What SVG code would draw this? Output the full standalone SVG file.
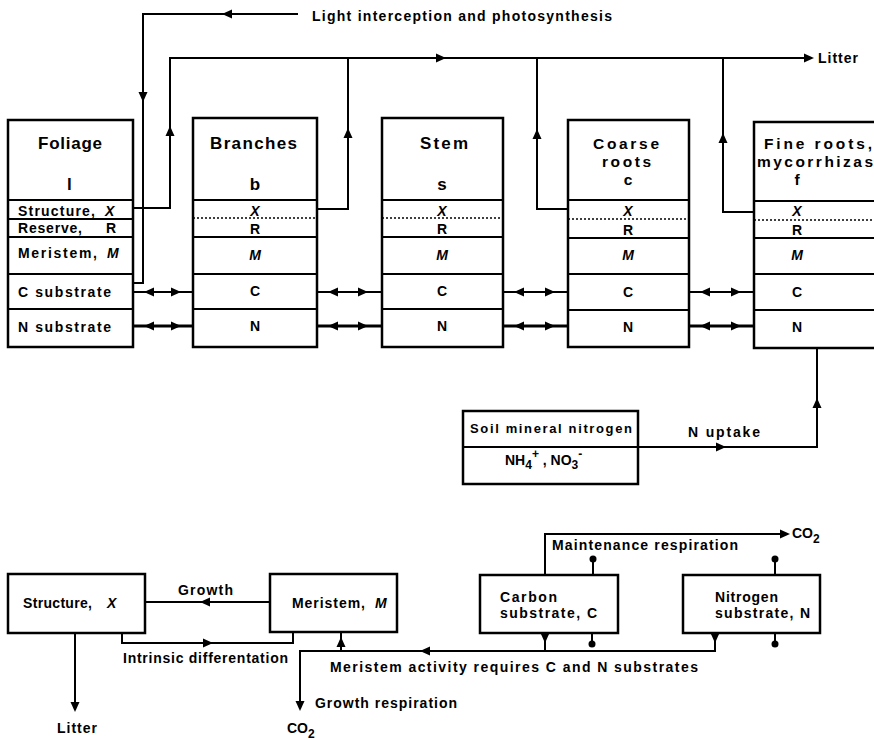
<svg xmlns="http://www.w3.org/2000/svg" xmlns:xlink="http://www.w3.org/1999/xlink" width="874" height="740" viewBox="0 0 874 740">
<style>
text{font-family:"Liberation Sans",Arial,sans-serif;font-weight:bold;fill:#000;font-size:14px}
.h{font-size:17px}
.h2{font-size:15.5px}
.s{font-size:12px}
.it{font-style:italic}
.box{fill:#fff;stroke:#000;stroke-width:2.5}
.row{stroke:#000;stroke-width:2;fill:none}
.dot{stroke:#000;stroke-width:1.6;stroke-dasharray:2 2;fill:none}
.ln{stroke:#000;stroke-width:2;fill:none}
.thk{stroke:#000;stroke-width:3;fill:none}
</style>
<defs>
<path id="tri" d="M0,0 L-10,-4.5 L-10,4.5 Z" fill="#000"/>
</defs>
<rect width="874" height="740" fill="#fff"/>

<g id="connectors">
<path class="ln" d="M298,14 H143 V283 H133"/>
<use xlink:href="#tri" transform="translate(222,14) rotate(180)"/>
<use xlink:href="#tri" transform="translate(143,102) rotate(90)"/>
<path class="ln" d="M133,208 H170 V58 H812"/>
<use xlink:href="#tri" transform="translate(814,58)"/>
<use xlink:href="#tri" transform="translate(446,58)"/>
<use xlink:href="#tri" transform="translate(170,126) rotate(-90)"/>
<path class="ln" d="M317,209 H348 V58"/>
<use xlink:href="#tri" transform="translate(348,128) rotate(-90)"/>
<path class="ln" d="M537,58 V209 H568"/>
<use xlink:href="#tri" transform="translate(537,129) rotate(-90)"/>
<path class="ln" d="M723,58 V212 H754"/>
<use xlink:href="#tri" transform="translate(723,133) rotate(-90)"/>
<path class="ln" d="M133,292 H193 M317,292 H382 M503,292 H568 M689,292 H754"/>
<use xlink:href="#tri" transform="translate(144,292) rotate(180)"/>
<use xlink:href="#tri" transform="translate(181,292)"/>
<use xlink:href="#tri" transform="translate(328,292) rotate(180)"/>
<use xlink:href="#tri" transform="translate(368,292)"/>
<use xlink:href="#tri" transform="translate(514,292) rotate(180)"/>
<use xlink:href="#tri" transform="translate(555,292)"/>
<use xlink:href="#tri" transform="translate(700,292) rotate(180)"/>
<use xlink:href="#tri" transform="translate(741,292)"/>
<path class="thk" d="M133,326 H193 M317,326 H382 M503,326 H568 M689,326 H754"/>
<use xlink:href="#tri" transform="translate(144,326) rotate(180)"/>
<use xlink:href="#tri" transform="translate(181,326)"/>
<use xlink:href="#tri" transform="translate(328,326) rotate(180)"/>
<use xlink:href="#tri" transform="translate(368,326)"/>
<use xlink:href="#tri" transform="translate(514,326) rotate(180)"/>
<use xlink:href="#tri" transform="translate(555,326)"/>
<use xlink:href="#tri" transform="translate(700,326) rotate(180)"/>
<use xlink:href="#tri" transform="translate(741,326)"/>
<path class="ln" d="M638,447 H817 V348"/>
<use xlink:href="#tri" transform="translate(726,447)"/>
<use xlink:href="#tri" transform="translate(817,398) rotate(-90)"/>
<path class="ln" d="M270,602 H145"/>
<use xlink:href="#tri" transform="translate(200,602) rotate(180)"/>
<path class="ln" d="M122,633 V643 H293 V633"/>
<use xlink:href="#tri" transform="translate(213,643)"/>
<path class="ln" d="M75,633 V710"/>
<use xlink:href="#tri" transform="translate(75,712) rotate(90)"/>
<path class="ln" d="M715,633 V651 H300 V708"/>
<use xlink:href="#tri" transform="translate(300,711) rotate(90)"/>
<use xlink:href="#tri" transform="translate(420,651) rotate(180)"/>
<use xlink:href="#tri" transform="translate(715,643) rotate(90)"/>
<path class="ln" d="M545,633 V651"/>
<use xlink:href="#tri" transform="translate(545,643) rotate(90)"/>
<path class="ln" d="M341,651 V633"/>
<use xlink:href="#tri" transform="translate(341,637) rotate(-90)"/>
<path class="ln" d="M545,575 V534 H786"/>
<use xlink:href="#tri" transform="translate(790,534)"/>
<path class="ln" d="M593,575 V560 M775,575 V560 M592,633 V643 M775,633 V643"/>
<circle cx="593" cy="559" r="3.5"/>
<circle cx="775" cy="559" r="3.5"/>
<circle cx="592" cy="644" r="3.5"/>
<circle cx="775" cy="644" r="3.5"/>
</g>

<text x="312" y="21" textLength="300">Light interception and photosynthesis</text>
<text x="818" y="63" textLength="40">Litter</text>

<g id="foliage">
<rect class="box" x="8" y="120" width="125" height="227"/>
<path class="row" d="M8,200 H133 M8,219 H133 M8,237 H133 M8,274 H133 M8,309 H133"/>
<text class="h" x="38" y="149" textLength="64">Foliage</text>
<text class="h" x="67" y="190">l</text>
<text x="18" y="216" textLength="77">Structure,</text><text class="it" x="105" y="216">X</text>
<text x="18" y="233" textLength="64">Reserve,</text><text x="106" y="233">R</text>
<text x="18" y="258" textLength="79">Meristem,</text><text class="it" x="107" y="258">M</text>
<text x="18" y="297" textLength="93">C substrate</text>
<text x="18" y="332" textLength="93">N substrate</text>
</g>

<g id="branches">
<rect class="box" x="193" y="118" width="124" height="229"/>
<path class="row" d="M193,200 H317 M193,237 H317 M193,274 H317 M193,309 H317"/>
<path class="dot" d="M193,218 H317"/>
<text class="h" x="210" y="149" textLength="87">Branches</text>
<text class="h" x="255" y="190" text-anchor="middle">b</text>
<text class="it" x="255" y="216" text-anchor="middle">X</text>
<text x="255" y="234" text-anchor="middle">R</text>
<text class="it" x="255" y="260" text-anchor="middle">M</text>
<text x="255" y="296" text-anchor="middle">C</text>
<text x="255" y="331" text-anchor="middle">N</text>
</g>

<g id="stem">
<rect class="box" x="382" y="118" width="121" height="229"/>
<path class="row" d="M382,200 H503 M382,237 H503 M382,274 H503 M382,309 H503"/>
<path class="dot" d="M382,218 H503"/>
<text class="h" x="420" y="149" textLength="48">Stem</text>
<text class="h" x="442" y="190" text-anchor="middle">s</text>
<text class="it" x="442" y="216" text-anchor="middle">X</text>
<text x="442" y="234" text-anchor="middle">R</text>
<text class="it" x="442" y="260" text-anchor="middle">M</text>
<text x="442" y="296" text-anchor="middle">C</text>
<text x="442" y="331" text-anchor="middle">N</text>
</g>

<g id="coarse-roots">
<rect class="box" x="568" y="120" width="121" height="227"/>
<path class="row" d="M568,200 H689 M568,238 H689 M568,274 H689 M568,310 H689"/>
<path class="dot" d="M568,219 H689"/>
<text class="h2" x="593" y="149" textLength="66">Coarse</text>
<text class="h2" x="602" y="167" textLength="49">roots</text>
<text class="h2" x="628" y="185" text-anchor="middle">c</text>
<text class="it" x="628" y="216" text-anchor="middle">X</text>
<text x="628" y="235" text-anchor="middle">R</text>
<text class="it" x="628" y="260" text-anchor="middle">M</text>
<text x="628" y="297" text-anchor="middle">C</text>
<text x="628" y="332" text-anchor="middle">N</text>
</g>

<g id="fine-roots">
<rect class="box" x="754" y="122" width="130" height="226"/>
<path class="row" d="M754,201 H884 M754,238 H884 M754,274 H884 M754,310 H884"/>
<path class="dot" d="M754,220 H884"/>
<text class="h2" x="764" y="149" textLength="108">Fine roots,</text>
<text class="h2" x="757" y="167" textLength="116">mycorrhizas</text>
<text class="h2" x="797" y="185" text-anchor="middle">f</text>
<text class="it" x="797" y="216" text-anchor="middle">X</text>
<text x="797" y="235" text-anchor="middle">R</text>
<text class="it" x="797" y="260" text-anchor="middle">M</text>
<text x="797" y="297" text-anchor="middle">C</text>
<text x="797" y="332" text-anchor="middle">N</text>
</g>

<g id="soil">
<rect class="box" x="463" y="411" width="175" height="73"/>
<path class="row" d="M463,447 H638"/>
<text x="470" y="433" textLength="162" style="font-size:13px">Soil mineral nitrogen</text>
<text x="505" y="465">NH<tspan class="s" dy="4">4</tspan><tspan class="s" dy="-11">+</tspan><tspan dy="7"> , NO</tspan><tspan class="s" dy="4">3</tspan><tspan class="s" dy="-11">-</tspan></text>
</g>
<text x="688" y="437" textLength="72">N uptake</text>

<g id="structure">
<rect class="box" x="8" y="574" width="137" height="59"/>
<text x="23" y="608" textLength="69">Structure,</text><text class="it" x="107" y="608">X</text>
</g>
<g id="meristem">
<rect class="box" x="270" y="574" width="127" height="58"/>
<text x="292" y="608" textLength="73">Meristem,</text><text class="it" x="375" y="608">M</text>
</g>
<g id="carbon">
<rect class="box" x="480" y="575" width="138" height="58"/>
<text x="500" y="602" textLength="57">Carbon</text>
<text x="500" y="618" textLength="97">substrate, C</text>
</g>
<g id="nitrogen">
<rect class="box" x="683" y="575" width="137" height="58"/>
<text x="715" y="602" textLength="63">Nitrogen</text>
<text x="715" y="618" textLength="95">substrate, N</text>
</g>

<text x="178" y="595" textLength="55">Growth</text>
<text x="123" y="663" textLength="165">Intrinsic differentation</text>
<text x="330" y="672" textLength="368">Meristem activity requires C and N substrates</text>
<text x="315" y="708" textLength="142">Growth respiration</text>
<text x="57" y="733" textLength="40">Litter</text>
<text x="287" y="733">CO<tspan class="s" dy="5">2</tspan></text>
<text x="552" y="550" textLength="186">Maintenance respiration</text>
<text x="792" y="538">CO<tspan class="s" dy="5">2</tspan></text>
</svg>
